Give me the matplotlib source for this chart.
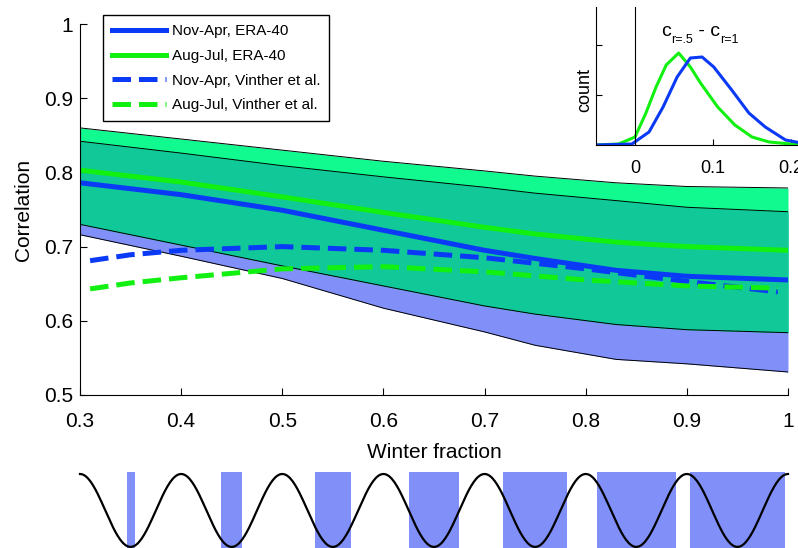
import numpy as np
import matplotlib
matplotlib.use('Agg')
import matplotlib.pyplot as plt
from matplotlib.ticker import FuncFormatter

plt.rcParams['font.family'] = ['Liberation Sans', 'DejaVu Sans']

# main panel: correlation vs winter fraction
frac = [0.3, 0.4, 0.5, 0.6, 0.7, 0.75, 0.83, 0.9, 1.0]
nov_era = [0.786, 0.770, 0.749, 0.722, 0.695, 0.684, 0.668, 0.660, 0.655]
aug_era = [0.803, 0.787, 0.767, 0.746, 0.726, 0.717, 0.706, 0.700, 0.695]
nov_lo = [0.716, 0.687, 0.657, 0.617, 0.585, 0.567, 0.548, 0.542, 0.531]
nov_hi = [0.842, 0.826, 0.809, 0.794, 0.780, 0.772, 0.762, 0.753, 0.747]
aug_lo = [0.730, 0.702, 0.674, 0.647, 0.620, 0.609, 0.595, 0.588, 0.584]
aug_hi = [0.860, 0.845, 0.830, 0.815, 0.802, 0.795, 0.786, 0.781, 0.779]

frac_v = [0.31, 0.35, 0.4, 0.5, 0.6, 0.7, 0.8, 0.9, 0.99]
nov_vinther = [0.681, 0.689, 0.695, 0.700, 0.695, 0.685, 0.670, 0.653, 0.639]
aug_vinther = [0.643, 0.651, 0.658, 0.670, 0.673, 0.666, 0.655, 0.647, 0.644]

# inset: distribution of c(r=.5) - c(r=1)
dx_aug = [-0.051, -0.021, 0.0, 0.014, 0.027, 0.040, 0.056, 0.071, 0.084, 0.106,
          0.128, 0.150, 0.172, 0.214]
cnt_aug = [0.0, 0.01, 0.08, 0.32, 0.58, 0.80, 0.92, 0.78, 0.62, 0.38, 0.20, 0.08,
           0.03, 0.0]
dx_nov = [-0.051, -0.004, 0.018, 0.036, 0.054, 0.071, 0.086, 0.101, 0.124, 0.146,
          0.167, 0.193, 0.213]
cnt_nov = [0.0, 0.01, 0.13, 0.38, 0.68, 0.87, 0.88, 0.78, 0.55, 0.32, 0.18, 0.05,
           0.02]

# bottom schematic: winter windows centred on each trough
win_center = [0.35, 0.45, 0.55, 0.65, 0.75, 0.85, 0.95]
win_width = [0.008, 0.021, 0.036, 0.049, 0.063, 0.078, 0.094]
period = 0.1

blue = '#0a3af5'
green = '#12f012'
purple = '#8090f8'
lgreen = '#10fa90'
teal = '#10c898'

fig = plt.figure(figsize=(7.98, 5.48), dpi=100)
ax = fig.add_axes([80 / 798, 153 / 548, 708 / 798, 371 / 548])

x = np.array(frac)
nlo, nhi = np.array(nov_lo), np.array(nov_hi)
alo, ahi = np.array(aug_lo), np.array(aug_hi)
ax.fill_between(x, nlo, nhi, color=purple, lw=0)
ax.fill_between(x, alo, ahi, color=lgreen, lw=0)
ax.fill_between(x, np.maximum(nlo, alo), np.minimum(nhi, ahi), color=teal, lw=0)
for edge in (nov_lo, nov_hi, aug_lo, aug_hi):
    ax.plot(frac, edge, color='black', lw=0.7)

ax.plot(frac, nov_era, color=blue, lw=3.6, label='Nov-Apr, ERA-40')
ax.plot(frac, aug_era, color=green, lw=3.6, label='Aug-Jul, ERA-40')
ax.plot(frac_v, nov_vinther, color=blue, lw=3.6, ls='--',
        label='Nov-Apr, Vinther et al.')
ax.plot(frac_v, aug_vinther, color=green, lw=3.6, ls='--',
        label='Aug-Jul, Vinther et al.')

ax.set_xlim(0.3, 1.0)
ax.set_ylim(0.5, 1.0)
ax.set_xticks(np.arange(0.3, 1.01, 0.1))
ax.set_yticks(np.arange(0.5, 1.01, 0.1))
fmt = FuncFormatter(lambda v, p: '%g' % round(v, 2))
ax.xaxis.set_major_formatter(fmt)
ax.yaxis.set_major_formatter(fmt)
ax.spines['top'].set_visible(False)
ax.spines['right'].set_visible(False)
ax.tick_params(direction='in', length=5, labelsize=15)
ax.tick_params(axis='x', pad=12)
ax.tick_params(axis='y', pad=5)
ax.set_xlabel('Winter fraction', fontsize=15, labelpad=9)
ax.set_ylabel('Correlation', fontsize=15, labelpad=8)

fig.legend(loc='upper left', bbox_to_anchor=(103 / 798, 1 - 15 / 548),
           borderaxespad=0, fancybox=False, edgecolor='black', framealpha=1,
           fontsize=11, handlelength=3.5, handletextpad=0.4,
           labelspacing=0.7, borderpad=0.6)

# inset
ins = fig.add_axes([596 / 798, 403 / 548, 234 / 798, 138 / 548])
ins.patch.set_alpha(0)
ins.plot(dx_aug, cnt_aug, color=green, lw=2.2)
ins.plot(dx_nov, cnt_nov, color=blue, lw=2.2)
ins.axvline(0, color='black', lw=0.8)
ins.set_xlim(-0.05, 0.25)
ins.set_ylim(0, 1.38)
ins.set_xticks([0, 0.1, 0.2])
ins.xaxis.set_major_formatter(fmt)
ins.set_yticks([0.5, 1.0])
ins.set_yticklabels([])
ins.spines['top'].set_visible(False)
ins.spines['right'].set_visible(False)
ins.tick_params(direction='in', length=4, labelsize=13)
ins.tick_params(axis='x', pad=11)
ins.set_ylabel('count', fontsize=13)
ins.yaxis.set_label_coords(-0.01, 0.4)

# inset title c_{r=.5} - c_{r=1}, built from pieces to keep it compact
t1 = ins.text(0.28, 0.76, 'c', fontsize=14, ha='left', va='bottom',
              transform=ins.transAxes)
t2 = ins.annotate('r=.5', xy=(1, 0), xycoords=t1, xytext=(0, -4),
                  textcoords='offset points', fontsize=9, va='bottom')
t3 = ins.annotate(' - c', xy=(1, 0), xycoords=t2, xytext=(0, 4),
                  textcoords='offset points', fontsize=14, va='bottom')
ins.annotate('r=1', xy=(1, 0), xycoords=t3, xytext=(0, -4),
             textcoords='offset points', fontsize=9, va='bottom')

# bottom schematic of the seasonal cycle
bot = fig.add_axes([80 / 798, 0, 708 / 798, 76 / 548])
for c, w in zip(win_center, win_width):
    bot.axvspan(c - w / 2, c + w / 2, color=purple, lw=0)
t = np.linspace(0.3, 1.0, 600)
bot.plot(t, np.cos(2 * np.pi * (t - 0.3) / period), color='black', lw=1.6,
         clip_on=False)
bot.set_xlim(0.3, 1.0)
bot.set_ylim(-1.03, 1.055)
bot.axis('off')

fig.savefig('out.png', dpi=100)
